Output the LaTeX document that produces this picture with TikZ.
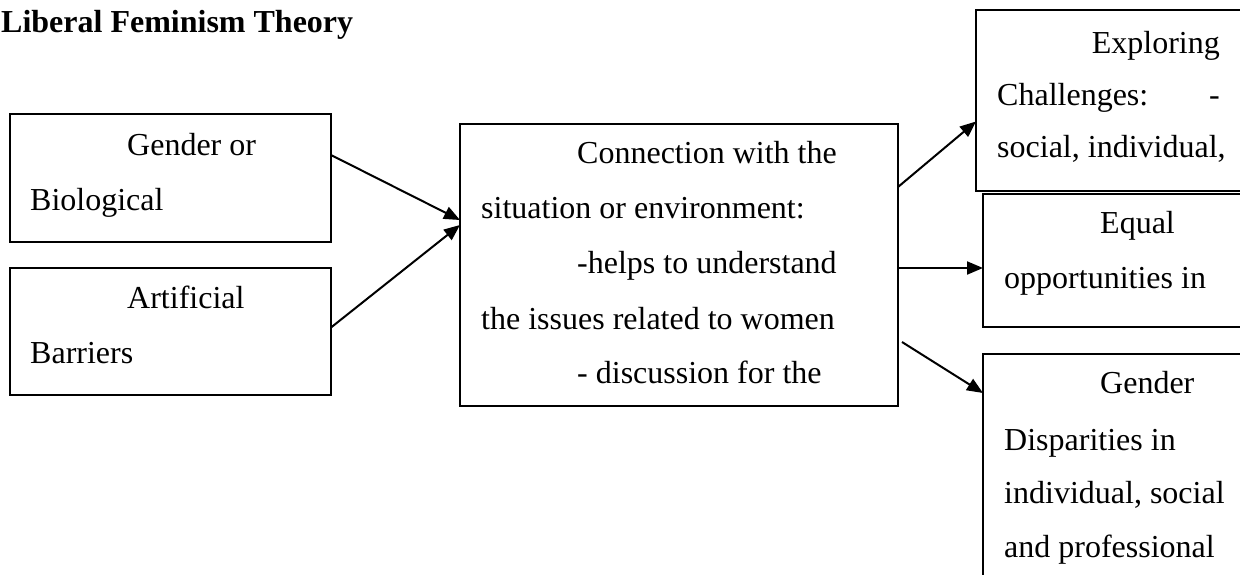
\documentclass[tikz,border=0pt]{standalone}
\usepackage{fontspec}
\setmainfont{Liberation Serif}
\usetikzlibrary{arrows.meta}
\begin{document}
\begin{tikzpicture}[x=1pt,y=-1pt,
  box/.style={draw, line width=2pt, inner sep=0pt, outer sep=0pt},
  txt/.style={anchor=base west, inner sep=0pt, font=\fontsize{32}{40}\selectfont},
  txtr/.style={anchor=base east, inner sep=0pt, font=\fontsize{32}{40}\selectfont},
  conn/.style={line width=2pt, -{Triangle[length=16pt,width=13pt]}}]
\useasboundingbox (0,0) rectangle (1240,574);
\clip (0,0) rectangle (1240,574);
\fill[white] (0,0) rectangle (1240,574);
% title
\node[anchor=base west, inner sep=0pt, font=\fontsize{32}{40}\selectfont\bfseries] (title) at (1,32) {Liberal Feminism Theory};
% boxes
\node[box, minimum width=321pt, minimum height=128pt] (b1) at (170.5,178) {};
\node[box, minimum width=321pt, minimum height=127pt] (b2) at (170.5,331.5) {};
\node[box, minimum width=438pt, minimum height=282pt] (c) at (679,265) {};
\node[box, minimum width=284pt, minimum height=181pt] (r1) at (1118,100.5) {};
\node[box, minimum width=277pt, minimum height=133pt] (r2) at (1121.5,260.5) {};
\node[box, minimum width=277pt, minimum height=256pt] (r3) at (1121.5,482) {};
% texts
\node[txt] (t1a) at (127,155) {Gender or};
\node[txt] (t1b) at (30,210) {Biological};
\node[txt] (t2a) at (127,308) {Artificial};
\node[txt] (t2b) at (30,363) {Barriers};
\node[txt] (tc1) at (577,163) {Connection with the};
\node[txt] (tc2) at (481,218) {situation or environment:};
\node[txt] (tc3) at (577,273) {-helps to understand};
\node[txt] (tc4) at (481,329) {the issues related to women};
\node[txt] (tc5) at (577,383) {- discussion for the};
\node[txtr] (tr1a) at (1220,53) {Exploring};
\node[txt] (tr1b) at (997,105) {Challenges:};
\node[txtr] (tr1c) at (1220,105) {-};
\node[txt] (tr1d) at (997,157) {social, individual,};
\node[txt] (tr2a) at (1100,233) {Equal};
\node[txt] (tr2b) at (1004,288) {opportunities in};
\node[txt] (tr3a) at (1100,393) {Gender};
\node[txt] (tr3b) at (1004,450) {Disparities in};
\node[txt] (tr3c) at (1004,503) {individual, social};
\node[txt] (tr3d) at (1004,557) {and professional};
% connectors
\draw[conn] ([yshift=23pt]b1.east) -- ([yshift=45pt]c.west);
\draw[conn] ([yshift=4pt]b2.east) -- ([yshift=40pt]c.west);
\draw[conn] ([yshift=78pt]c.east) -- ([yshift=-21pt]r1.west);
\draw[conn] ([yshift=-3pt]c.east) -- ([yshift=-7.5pt]r2.west);
\draw[conn] ([shift={(4pt,-77pt)}]c.east) -- ([yshift=-39pt]r3.north west);
\end{tikzpicture}
\end{document}
